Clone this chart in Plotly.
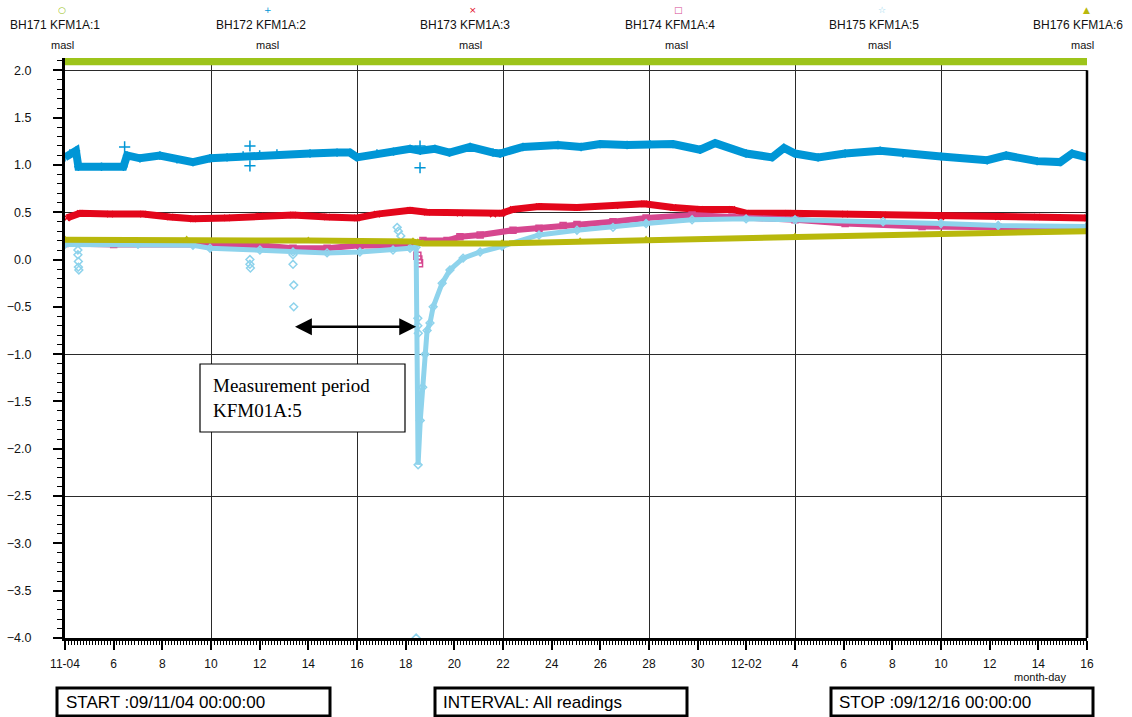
import pandas as pd
import plotly.graph_objects as go

# ---------------- data (days after 2009-11-04 00:00, level in masl) ----------------
START = pd.Timestamp("2009-11-04 00:00:00")
STOP = pd.Timestamp("2009-12-16 00:00:00")

SERIES_NAMES = ["BH171 KFM1A:1", "BH172 KFM1A:2", "BH173 KFM1A:3",
                "BH174 KFM1A:4", "BH175 KFM1A:5", "BH176 KFM1A:6"]

bh171_day = [0.0, 42.0]
bh171_val = [2.095, 2.095]

bh172_day = [0.0, 0.2, 0.45, 0.55, 1.5, 2.4, 2.55, 3.08, 3.9, 4.6, 5.26, 5.96, 6.66, 7.32,
             8.0, 8.71, 10.07, 11.18, 11.71, 12.0, 12.82, 13.5, 14.18, 14.6, 15.2, 15.8,
             16.65, 17.59, 17.88, 18.82, 20.26, 21.21, 21.99, 23.1, 24.04, 24.99, 26.1,
             26.72, 27.99, 29.06, 29.55, 30.0, 30.95, 32.06, 33.5, 34.44, 36.0, 37.9,
             38.68, 39.95, 40.9, 41.39, 42.0]
bh172_val = [1.08, 1.12, 1.15, 0.98, 0.98, 0.98, 1.10, 1.07, 1.10, 1.06, 1.03, 1.07, 1.08, 1.10,
             1.11, 1.12, 1.12, 1.13, 1.13, 1.08, 1.12, 1.14, 1.17, 1.15, 1.17, 1.13,
             1.19, 1.13, 1.12, 1.19, 1.21, 1.19, 1.22, 1.21, 1.22, 1.22, 1.16,
             1.23, 1.12, 1.08, 1.18, 1.12, 1.08, 1.12, 1.15, 1.12, 1.09, 1.05,
             1.10, 1.04, 1.03, 1.12, 1.08]
bh172_out_day = [2.45, 7.6, 7.6, 14.59, 14.59]
bh172_out_val = [1.19, 1.20, 0.99, 1.20, 0.97]

bh173_day = [0.08, 0.62, 1.85, 3.21, 4.32, 5.26, 6.66, 8.01, 9.37, 10.77, 12.0, 12.82, 14.18,
             14.88, 16.23, 17.59, 17.96, 18.41, 19.48, 21.04, 22.61, 23.8, 24.99, 26.1,
             27.41, 27.99, 29.72, 32.06, 33.62, 36.0, 38.35, 39.95, 42.0]
bh173_val = [0.44, 0.49, 0.48, 0.48, 0.45, 0.43, 0.44, 0.46, 0.47, 0.45, 0.44, 0.48, 0.52,
             0.50, 0.49, 0.48, 0.49, 0.53, 0.56, 0.55, 0.57, 0.59, 0.55, 0.53,
             0.53, 0.49, 0.49, 0.48, 0.47, 0.45, 0.45, 0.45, 0.44]

bh174_day = [0.0, 2.0, 5.67, 8.0, 9.37, 10.77, 12.12, 13.48, 14.3, 14.71, 15.7, 16.23, 17.06,
             18.41, 19.48, 20.47, 21.04, 22.52, 23.88, 25.77, 27.41, 30.0, 32.06, 35.22,
             38.35, 42.0]
bh174_val = [0.17, 0.16, 0.16, 0.15, 0.12, 0.12, 0.15, 0.15, 0.14, 0.20, 0.20, 0.24, 0.26,
             0.31, 0.33, 0.36, 0.37, 0.40, 0.44, 0.47, 0.45, 0.42, 0.38, 0.35,
             0.34, 0.33]
bh174_out_day = [14.48, 14.52, 14.55]
bh174_out_val = [0.04, 0.00, -0.04]

bh175_day = [0.0, 3.0, 5.26, 5.96, 8.01, 9.37, 10.77, 12.12, 13.48, 14.18, 14.43, 14.51,
             14.6, 14.7, 14.8, 14.88, 15.0, 15.13, 15.5, 15.82, 16.36, 17.06, 17.96, 19.48,
             21.04, 22.52, 23.88, 25.77, 27.99, 30.0, 33.62, 36.0, 38.35, 42.0]
bh175_val = [0.16, 0.16, 0.15, 0.12, 0.10, 0.08, 0.07, 0.08, 0.10, 0.12, 0.13, -2.17,
             -1.7, -1.35, -1.0, -0.75, -0.67, -0.5, -0.25, -0.11, 0.015, 0.08, 0.14, 0.26,
             0.31, 0.34, 0.38, 0.42, 0.43, 0.42, 0.40, 0.38, 0.36, 0.35]
bh175_out_day = [0.53, 0.53, 0.55, 0.55, 0.57, 7.6, 7.6, 7.62, 9.37, 9.37, 9.4, 9.4,
                 13.65, 13.7, 13.8, 14.5, 14.5, 14.52, 14.43]
bh175_out_val = [0.10, 0.05, -0.02, -0.08, -0.11, 0.0, -0.05, -0.09, 0.05, -0.05, -0.27, -0.5,
                 0.34, 0.30, 0.25, -0.62, -0.70, -0.78, -4.0]

bh176_day = [0.0, 5.0, 10.0, 14.3, 14.5, 14.7, 17.96, 21.17, 23.88, 30.0, 36.0, 42.0]
bh176_val = [0.21, 0.21, 0.20, 0.19, 0.18, 0.17, 0.17, 0.19, 0.21, 0.24, 0.27, 0.30]

TICK_TEXT = ["11-04", "6", "8", "10", "12", "14", "16", "18", "20", "22", "24", "26", "28",
             "30", "12-02", "4", "6", "8", "10", "12", "14", "16"]

# period marked by the arrow (days)
PERIOD = [9.39, 14.43]
PERIOD_LEVEL = -0.71

# ---------------- helpers ----------------
def t(days):
    return [START + pd.Timedelta(days=d) for d in days]

W, H = 1132, 717
ML, MR, MT, MB = 65, 45, 58, 79
PW, PH = W - ML - MR, H - MT - MB


def px(xp):
    return (xp - ML) / PW


def py(yp):
    return (H - MB - yp) / PH


COLORS = ["#9DC41A", "#0096D6", "#E3061B", "#D6478F", "#8ED3EC", "#B8B80C"]
SYMBOLS = ["circle-open", "cross-thin", "x-thin", "square-open", "diamond-open", "triangle-up"]
GLYPHS = ["\u25CB", "+", "\u00D7", "\u25A1", "\u2606", "\u25B2"]

fig = go.Figure()

def add(days, vals, i, width, mode="lines+markers", size=6):
    fig.add_trace(go.Scatter(
        x=t(days), y=vals, mode=mode, name=SERIES_NAMES[i], showlegend=False,
        line=dict(color=COLORS[i], width=width),
        marker=dict(symbol=SYMBOLS[i], size=size, color=COLORS[i],
                    line=dict(color=COLORS[i], width=1.5)),
        cliponaxis=False if i == 0 else True,
    ))

add(bh171_day, bh171_val, 0, 8, mode="lines")
add(bh172_day, bh172_val, 1, 8)
add(bh172_out_day, bh172_out_val, 1, 0, mode="markers", size=8)
add(bh173_day, bh173_val, 2, 7)
add(bh174_day, bh174_val, 3, 6)
add(bh174_out_day, bh174_out_val, 3, 0, mode="markers", size=7)
add(bh175_day, bh175_val, 4, 5)
add(bh175_out_day, bh175_out_val, 4, 0, mode="markers", size=6)
add(bh176_day, bh176_val, 5, 6)

# empty trace on overlay axes used for the coarse grid
fig.add_trace(go.Scatter(x=[], y=[], xaxis="x2", yaxis="y2", showlegend=False))

FONT = "Liberation Sans"
xtickfont = dict(family=FONT, size=12, color="#111")
ytickfont = dict(family=FONT, size=12.5, color="#111")

fig.update_layout(
    width=W, height=H,
    margin=dict(l=ML, r=MR, t=MT, b=MB, pad=0, autoexpand=False),
    paper_bgcolor="white", plot_bgcolor="white",
    showlegend=False,
    xaxis=dict(
        type="date", range=[START, STOP], automargin=False,
        tickmode="array", tickvals=t(range(0, 43, 2)), ticktext=TICK_TEXT,
        ticks="outside", ticklen=9, tickwidth=1.5, tickcolor="black",
        showline=True, linewidth=3, linecolor="black", mirror=False,
        showgrid=False, zeroline=False, tickfont=xtickfont, ticklabelstandoff=4,
        minor=dict(tickmode="linear", tick0=START, dtick=3 * 3600 * 1000,
                   ticks="outside", ticklen=4, tickwidth=1, tickcolor="black",
                   showgrid=False),
    ),
    yaxis=dict(
        range=[-4.0, 2.13], automargin=False,
        tickmode="linear", tick0=-4.0, dtick=0.5, tickformat=".1f",
        ticks="outside", ticklen=9, tickwidth=1.5, tickcolor="black",
        showline=True, linewidth=3, linecolor="black",
        showgrid=False, zeroline=False, tickfont=ytickfont, ticklabelstandoff=19,
        minor=dict(tickmode="linear", tick0=-4.0, dtick=0.1, ticks="outside", ticklen=5,
                   tickwidth=1, tickcolor="black", showgrid=False),
    ),
    xaxis2=dict(
        type="date", range=[START, STOP], overlaying="x", anchor="y2", automargin=False,
        tickmode="linear", tick0=START, dtick=6 * 86400000,
        showgrid=True, gridcolor="#2a2a2a", gridwidth=1.3,
        showticklabels=False, ticks="", showline=False, zeroline=False,
    ),
    yaxis2=dict(
        range=[-4.0, 2.13], overlaying="y", anchor="x2", automargin=False,
        tickmode="linear", tick0=-4.0, dtick=1.5,
        showgrid=True, gridcolor="#2a2a2a", gridwidth=1.3,
        showticklabels=False, ticks="", showline=False, zeroline=False,
    ),
)

shapes = []
# right frame edge
shapes.append(dict(type="line", xref="paper", x0=1, x1=1, yref="y", y0=-4.0, y1=2.0,
                   line=dict(color="black", width=2.5)))
# bottom info boxes
for x0, x1 in [(57, 330), (435, 687), (831, 1093)]:
    shapes.append(dict(type="rect", xref="paper", yref="paper",
                       x0=px(x0), x1=px(x1), y0=py(716), y1=py(688),
                       line=dict(color="black", width=3), fillcolor="white"))
# annotation box
shapes.append(dict(type="rect", xref="paper", yref="paper",
                   x0=px(200), x1=px(405), y0=py(432), y1=py(364),
                   line=dict(color="black", width=1.2), fillcolor="white"))
fig.update_layout(shapes=shapes)

ann = []
label_cx = [55, 261, 465, 670, 874, 1078]
marker_cx = [62, 268, 473, 678, 882, 1086]
masl_cx = [62, 267, 470, 676, 879, 1082]
for i, name in enumerate(SERIES_NAMES):
    ann.append(dict(xref="paper", yref="paper", x=px(marker_cx[i]), y=py(10), text=GLYPHS[i],
                    showarrow=False, font=dict(family="DejaVu Sans", size=9, color=COLORS[i]),
                    xanchor="center", yanchor="middle"))
    ann.append(dict(xref="paper", yref="paper", x=px(label_cx[i]), y=py(25), text=name,
                    showarrow=False, font=dict(family=FONT, size=12, color="#111"),
                    xanchor="center", yanchor="middle"))
    ann.append(dict(xref="paper", yref="paper", x=px(masl_cx[i]), y=py(45), text="masl",
                    showarrow=False, font=dict(family=FONT, size=11, color="#111"),
                    xanchor="center", yanchor="middle"))

ann.append(dict(xref="paper", yref="paper", x=px(1040), y=py(677), text="month-day",
                showarrow=False, font=dict(family=FONT, size=11, color="#111"),
                xanchor="center", yanchor="middle"))

for xl, txt in [(64, "START :09/11/04 00:00:00"), (441, "INTERVAL: All readings"),
                (837, "STOP :09/12/16 00:00:00")]:
    ann.append(dict(xref="paper", yref="paper", x=px(xl), y=py(702), text=txt,
                    showarrow=False, font=dict(family=FONT, size=17, color="black"),
                    xanchor="left", yanchor="middle"))

ann.append(dict(xref="paper", yref="paper", x=px(211), y=py(398),
                text="Measurement period<br>KFM01A:5", align="left",
                showarrow=False, font=dict(family="Liberation Serif", size=19, color="black"),
                xanchor="left", yanchor="middle"))

# double-headed arrow for the measurement period
ann.append(dict(x=t([PERIOD[1]])[0], y=PERIOD_LEVEL, ax=t([PERIOD[0]])[0], ay=PERIOD_LEVEL,
                xref="x", yref="y", axref="x", ayref="y", text="", showarrow=True,
                arrowhead=2, arrowside="end+start", arrowsize=1.3, arrowwidth=2.6,
                arrowcolor="black"))
fig.update_layout(annotations=ann)

fig.write_html("out.html", config={"displayModeBar": False},
               post_script="document.body.style.margin='0';document.body.style.overflow='hidden';")
